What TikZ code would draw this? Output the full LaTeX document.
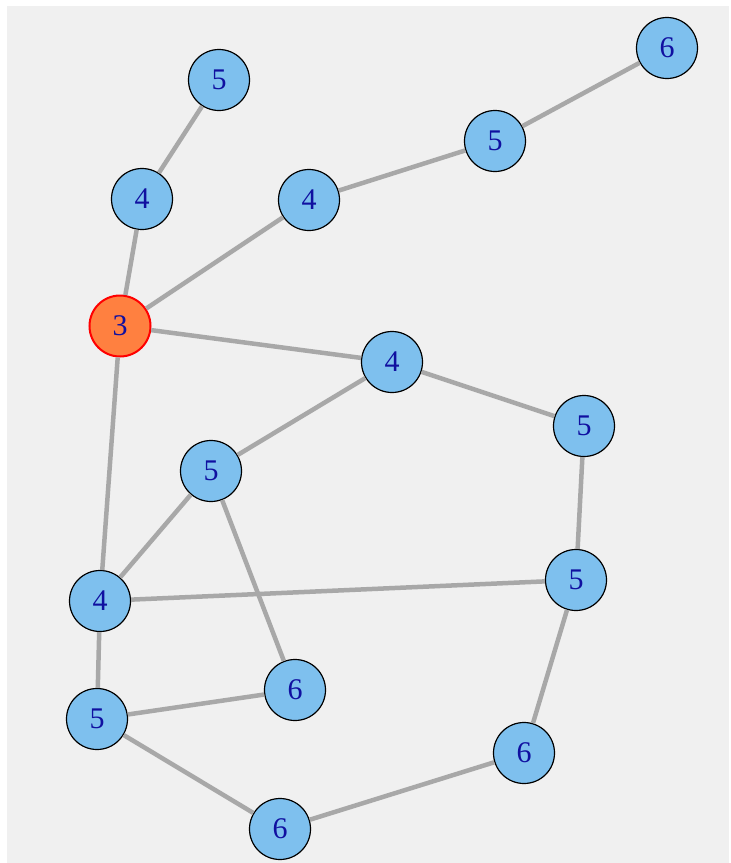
\documentclass[tikz,border=0pt]{standalone}
\usepackage{fontspec}
\setmainfont{Liberation Serif}
\definecolor{bgc}{HTML}{F0F0F0}
\definecolor{nodefill}{HTML}{7EC0EE}
\definecolor{labc}{HTML}{1010A0}
\definecolor{edgec}{HTML}{A8A8A8}
\definecolor{orangefill}{HTML}{FF8040}
\tikzset{
  vert/.style={circle, draw=black, line width=1.2pt, fill=nodefill, minimum size=61pt, inner sep=0pt, text=labc, font=\fontsize{30}{30}\selectfont},
  root/.style={vert, draw=red, line width=2pt, fill=orangefill},
  edge/.style={draw=edgec, line width=4.5pt}
}
\begin{document}
\begin{tikzpicture}[x=1pt,y=-1pt]
\useasboundingbox (0,0) rectangle (731,863);
\fill[white] (0,0) rectangle (731,863);
\fill[bgc] (7,6) rectangle (729,863);
\node[vert] (a) at (219,80) {5};
\node[vert] (b) at (142,199) {4};
\node[root] (c) at (120,326) {3};
\node[vert] (d) at (309,200) {4};
\node[vert] (e) at (495,141) {5};
\node[vert] (f) at (667,48) {6};
\node[vert] (g) at (392,362) {4};
\node[vert] (h) at (584,426) {5};
\node[vert] (i) at (211,471) {5};
\node[vert] (j) at (576,580) {5};
\node[vert] (k) at (100,601) {4};
\node[vert] (l) at (295,690) {6};
\node[vert] (m) at (97,719) {5};
\node[vert] (n) at (524,753) {6};
\node[vert] (o) at (280,829) {6};
\foreach \u/\v in {a/b,b/c,c/d,d/e,e/f,c/g,c/k,g/h,g/i,i/k,i/l,h/j,k/j,k/m,m/l,m/o,o/n,n/j}
  \path[edge] (\u) -- (\v);
\end{tikzpicture}
\end{document}
